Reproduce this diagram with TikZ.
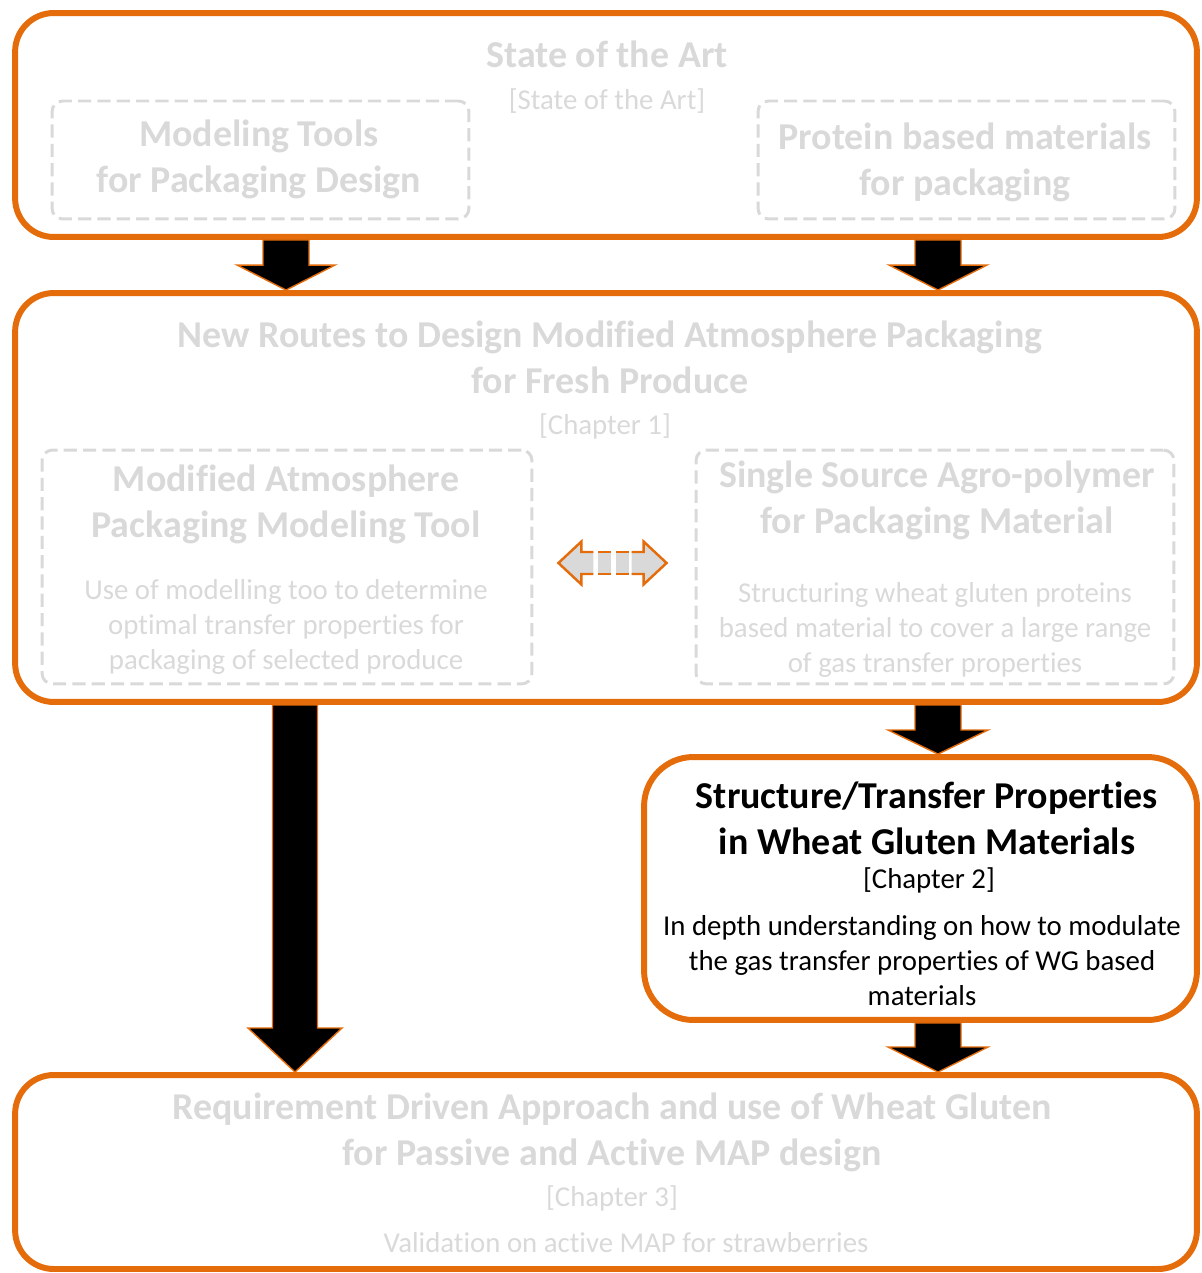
\documentclass[tikz,border=0pt]{standalone}
\usepackage{fontspec}
\setmainfont{Carlito}[Ligatures={NoCommon}]
\usepackage{xcolor}
\usepackage{tikz}
\usetikzlibrary{shapes,arrows,positioning,calc,arrows.meta}

\definecolor{mapOrange}{RGB}{228,108,10}
\definecolor{mapGrey}{RGB}{217,217,217}

% block arrow pointing down: start, tip, shaft half width, head half width, head length
\newcommand{\downblock}[5]{%
  \draw [map blockarrow] ($(#1)+(-#3,0)$) -- ($(#2)+(-#3,-#5)$) -- ($(#2)+(-#4,-#5)$) -- (#2)
    -- ($(#2)+(#4,-#5)$) -- ($(#2)+(#3,-#5)$) -- ($(#1)+(#3,0)$) -- cycle;}

\begin{document}
\begin{tikzpicture}[x=0.02cm, y=-0.02cm,
    map box/.style={rectangle, draw=mapOrange, line width=3.4pt, rounded corners=22pt, inner sep=0pt},
    map dashbox/.style={rectangle, draw=mapGrey, line width=1.7pt, dash pattern=on 7.5pt off 3.5pt, rounded corners=6pt, inner sep=0pt},
    map title/.style={font=\bfseries\fontsize{21.6}{26.2}\selectfont, text=mapGrey, align=center, inner sep=0pt},
    map text/.style={font=\fontsize{16.4}{19.9}\selectfont, text=mapGrey, align=center, inner sep=0pt},
    map blockarrow/.style={fill=black, draw=mapOrange, line width=0.8pt, line join=miter},
    map dblarrow/.style={fill=mapGrey, draw=mapOrange, line width=1.4pt}]

    \useasboundingbox (0,0) rectangle (1201,1273);

    % outer boxes
    \node [map box, minimum width=23.64cm, minimum height=4.48cm] (art) at (606,125) {};
    \node [map box, minimum width=23.64cm, minimum height=8.18cm] (routes) at (606,497.5) {};
    \node [map box, rounded corners=28pt, minimum width=11.06cm, minimum height=5.26cm] (structure) at (920.5,888.5) {};
    \node [map box, minimum width=23.64cm, minimum height=3.88cm] (approach) at (606,1172) {};

    % inner dashed boxes
    \node [map dashbox, minimum width=8.34cm, minimum height=2.36cm] (tools) at (260.5,160) {};
    \node [map dashbox, minimum width=8.34cm, minimum height=2.36cm] (protein) at (966.5,160) {};
    \node [map dashbox, minimum width=9.8cm, minimum height=4.68cm] (maptool) at (287,567) {};
    \node [map dashbox, minimum width=9.56cm, minimum height=4.68cm] (agro) at (935,567) {};

    % texts
    \node [map title] (artTitle) at (607,54) {State of the Art};
    \node [map text] (artRef) at (607,101) {[State of the Art]};
    \node [map title] (toolsText) at (259,159) {Modeling Tools\\for Packaging Design};
    \node [map title] (proteinText) at (965,162) {Protein based materials\\for packaging};

    \node [map title] (routesTitle) at (610,357) {New Routes to Design Modified Atmosphere Packaging\\for Fresh Produce};
    \node [map text] (routesRef) at (605,426) {[Chapter 1]};
    \node [map title] (maptoolTitle) at (286,504) {Modified Atmosphere\\Packaging Modeling Tool};
    \node [map text] (maptoolText) at (286,627) {Use of modelling too to determine\\optimal transfer properties for\\packaging of selected produce};
    \node [map title] (agroTitle) at (937,500) {Single Source Agro-polymer\\for Packaging Material};
    \node [map text] (agroText) at (935,630) {Structuring wheat gluten proteins\\based material to cover a large range\\of gas transfer properties};

    \node [map title, text=black] (structureTitle) at (927,818) {Structure/Transfer Properties\\in Wheat Gluten Materials};
    \node [map text, text=black] (structureRef) at (929,880) {[Chapter 2]};
    \node [map text, text=black] (structureText) at (922,961) {In depth understanding on how to modulate\\the gas transfer properties of WG based\\materials};

    \node [map title] (approachTitle) at (612,1132) {Requirement Driven Approach and use of Wheat Gluten\\for Passive and Active MAP design};
    \node [map text] (approachRef) at (612,1198) {[Chapter 3]};
    \node [map text] (approachText) at (626,1243) {Validation on active MAP for strawberries};

    % block arrows
    \coordinate (a1s) at (art.south -| 286,0);
    \coordinate (a1e) at (routes.north -| 286,0);
    \coordinate (a2s) at (art.south -| 938,0);
    \coordinate (a2e) at (routes.north -| 938,0);
    \coordinate (a3s) at (routes.south -| 295,0);
    \coordinate (a3e) at (approach.north -| 295,0);
    \coordinate (a4s) at (routes.south -| 938,0);
    \coordinate (a4e) at (structure.north -| 938,0);
    \coordinate (a5s) at (structure.south -| 938,0);
    \coordinate (a5e) at (approach.north -| 938,0);
    \downblock{a1s}{a1e}{23}{49}{25}
    \downblock{a2s}{a2e}{23}{49}{25}
    \downblock{a3s}{a3e}{22.5}{47}{44}
    \downblock{a4s}{a4e}{23}{50}{24}
    \downblock{a5s}{a5e}{23}{50}{25}

    % double arrow between the two tools
    \coordinate (dl) at ($(maptool.east)+(25,-4)$);
    \coordinate (dr) at ($(agro.west)+(-28,-4)$);
    \path [map dblarrow] ($(dl)+(35,-11)$) -- ($(dl)+(23,-11)$) -- ($(dl)+(23,-21.5)$) -- (dl)
        -- ($(dl)+(23,21.5)$) -- ($(dl)+(23,11)$) -- ($(dl)+(35,11)$);
    \path [map dblarrow] ($(dr)+(-35,-11)$) -- ($(dr)+(-23,-11)$) -- ($(dr)+(-23,-21.5)$) -- (dr)
        -- ($(dr)+(-23,21.5)$) -- ($(dr)+(-23,11)$) -- ($(dr)+(-35,11)$);
    \foreach \sx in {40,58} {
        \fill [mapGrey] ($(dl)+(\sx,-11)$) rectangle ($(dl)+(\sx+13,11)$);
        \draw [mapOrange, line width=1.4pt] ($(dl)+(\sx,-11)$) -- ($(dl)+(\sx+13,-11)$);
        \draw [mapOrange, line width=1.4pt] ($(dl)+(\sx,11)$) -- ($(dl)+(\sx+13,11)$);
    }
\end{tikzpicture}
\end{document}
